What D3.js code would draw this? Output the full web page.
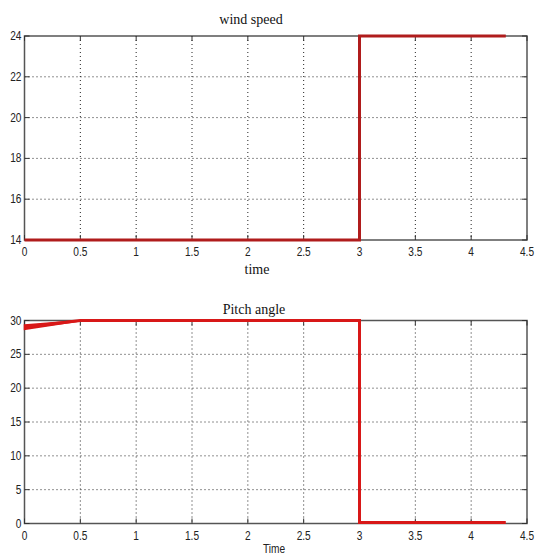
<!DOCTYPE html>
<html>
<head>
<meta charset="utf-8">
<script src="https://cdn.jsdelivr.net/npm/d3@7"></script>
<style>
  body { margin: 0; background: #fff; }
  svg { display: block; }
  .tick-label { font-family: "Liberation Sans", Arial, sans-serif; font-size: 13px; fill: #222; }
  .title { font-family: "Liberation Serif", "Times New Roman", serif; font-size: 14px; fill: #111; }
</style>
</head>
<body>
<script>
// Wind speed step input
const windTime = [0, 3, 3, 4.31];
const windSpeed = [14, 14, 24, 24];

// Pitch angle response (transient band at start, then settled)
const pitchTime = [0, 0.5, 3, 3, 4.31];
const pitchAngle = [29, 30, 30, 0.15, 0.15];
const pitchBandTime = [0, 0.5];
const pitchBandLow = [28.7, 29.95];
const pitchBandHigh = [29.35, 30];

const xTicks = [0, 0.5, 1, 1.5, 2, 2.5, 3, 3.5, 4, 4.5];
const windTicks = [14, 16, 18, 20, 22, 24];
const pitchTicks = [0, 5, 10, 15, 20, 25, 30];

const W = 542, H = 556;
const svg = d3.select("body").append("svg").attr("width", W).attr("height", H);

// condensed label: scale horizontally around its anchor point
function narrowText(sel, px, py, anchor) {
  sel.attr("x", 0).attr("y", 0).attr("text-anchor", anchor)
    .attr("transform", (d, i) => `translate(${px(d, i)},${py(d, i)}) scale(0.78,1)`);
}

function panel(cfg) {
  const { top, bottom, yDomain, yTicks, title, titleY, titleX, xlabel, xlabelY, xlabelX, xlabelSerif } = cfg;
  const x = d3.scaleLinear().domain([0, 4.5]).range([24.5, 527]);
  const y = d3.scaleLinear().domain(yDomain).range([bottom, top]);
  const g = svg.append("g");

  // dotted grid
  g.selectAll(".gx").data(xTicks.slice(1, -1)).join("line")
    .attr("x1", d => x(d)).attr("x2", d => x(d)).attr("y1", top).attr("y2", bottom)
    .attr("stroke", "#222").attr("stroke-width", 1).attr("stroke-dasharray", "1,3");
  g.selectAll(".gy").data(yTicks.slice(1, -1)).join("line")
    .attr("x1", x(0)).attr("x2", x(4.5)).attr("y1", d => y(d)).attr("y2", d => y(d))
    .attr("stroke", "#222").attr("stroke-width", 1).attr("stroke-dasharray", "1,3");

  // frame
  g.append("rect").attr("x", x(0)).attr("y", top).attr("width", x(4.5) - x(0)).attr("height", bottom - top)
    .attr("fill", "none").attr("stroke", "#555").attr("stroke-width", 1.5);

  // inward tick marks on all four sides
  const tl = 5;
  xTicks.forEach(d => {
    g.append("line").attr("x1", x(d)).attr("x2", x(d)).attr("y1", bottom).attr("y2", bottom - tl).attr("stroke", "#333");
    g.append("line").attr("x1", x(d)).attr("x2", x(d)).attr("y1", top).attr("y2", top + tl).attr("stroke", "#333");
  });
  yTicks.forEach(d => {
    g.append("line").attr("x1", x(0)).attr("x2", x(0) + tl).attr("y1", y(d)).attr("y2", y(d)).attr("stroke", "#333");
    g.append("line").attr("x1", x(4.5)).attr("x2", x(4.5) - tl).attr("y1", y(d)).attr("y2", y(d)).attr("stroke", "#333");
  });

  // tick labels
  g.selectAll(".xl").data(xTicks).join("text").attr("class", "tick-label").text(d => d)
    .call(narrowText, d => x(d), () => bottom + 16, "middle");
  g.selectAll(".yl").data(yTicks).join("text").attr("class", "tick-label").text(d => d)
    .call(narrowText, () => x(0) - 3, d => y(d) + 4, "end");

  // titles
  g.append("text").attr("class", "title").attr("x", titleX).attr("y", titleY).attr("text-anchor", "middle").text(title);
  const xl = g.append("text").attr("class", xlabelSerif ? "title" : "tick-label").text(xlabel);
  if (xlabelSerif) xl.attr("x", xlabelX).attr("y", xlabelY).attr("text-anchor", "middle");
  else xl.datum(0).call(narrowText, () => xlabelX, () => xlabelY, "middle");

  return { x, y, g };
}

// Top: wind speed
const p1 = panel({ top: 36, bottom: 240, yDomain: [14, 24], yTicks: windTicks,
  title: "wind speed", titleX: 251, titleY: 24, xlabel: "time", xlabelX: 257, xlabelY: 274, xlabelSerif: true });
p1.g.append("path")
  .datum(windTime.map((t, i) => [t, windSpeed[i]]))
  .attr("d", d3.line().x(d => p1.x(d[0])).y(d => p1.y(d[1])))
  .attr("fill", "none").attr("stroke", "#b01c1c").attr("stroke-width", 3);

// Bottom: pitch angle
const p2 = panel({ top: 320.5, bottom: 523.5, yDomain: [0, 30], yTicks: pitchTicks,
  title: "Pitch angle", titleX: 254, titleY: 314, xlabel: "Time", xlabelX: 274, xlabelY: 553, xlabelSerif: false });
p2.g.append("path")
  .datum(pitchBandTime.map((t, i) => [t, pitchBandLow[i], pitchBandHigh[i]]))
  .attr("d", d3.area().x(d => p2.x(d[0])).y0(d => p2.y(d[1])).y1(d => p2.y(d[2])))
  .attr("fill", "#d81818").attr("stroke", "#d81818").attr("stroke-width", 1.5);
p2.g.append("path")
  .datum(pitchTime.map((t, i) => [t, pitchAngle[i]]))
  .attr("d", d3.line().x(d => p2.x(d[0])).y(d => p2.y(d[1])))
  .attr("fill", "none").attr("stroke", "#d81818").attr("stroke-width", 3);
</script>
</body>
</html>
